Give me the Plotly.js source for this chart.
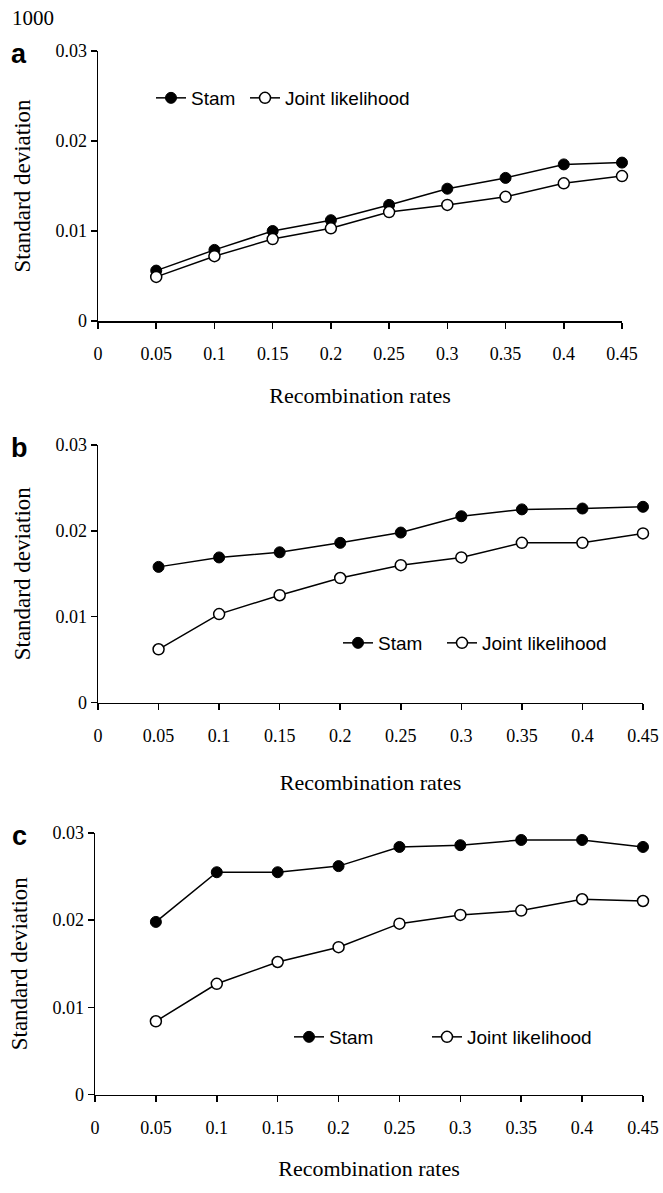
<!DOCTYPE html>
<html>
<head>
<meta charset="utf-8">
<script src="https://cdn.plot.ly/plotly-3.0.1.min.js"></script>
<style>
  html, body { margin: 0; padding: 0; background: #fff; }
  #chart { width: 663px; height: 1193px; }
</style>
</head>
<body>
<div id="chart"></div>
<script>
// Recombination rates (x values)
const rates = [0.05, 0.1, 0.15, 0.2, 0.25, 0.3, 0.35, 0.4, 0.45];
const xTickVals = [0, 0.05, 0.1, 0.15, 0.2, 0.25, 0.3, 0.35, 0.4, 0.45];
const xTickText = ["0", "0.05", "0.1", "0.15", "0.2", "0.25", "0.3", "0.35", "0.4", "0.45"];
const yTickVals = [0, 0.01, 0.02, 0.03];
const yTickText = ["0", "0.01", "0.02", "0.03"];

// Panel a
const stamA  = [0.0056, 0.0079, 0.0100, 0.0112, 0.0129, 0.0147, 0.0159, 0.0174, 0.0176];
const jointA = [0.0049, 0.0072, 0.0091, 0.0103, 0.0121, 0.0129, 0.0138, 0.0153, 0.0161];
// Panel b
const stamB  = [0.0158, 0.0169, 0.0175, 0.0186, 0.0198, 0.0217, 0.0225, 0.0226, 0.0228];
const jointB = [0.0062, 0.0103, 0.0125, 0.0145, 0.0160, 0.0169, 0.0186, 0.0186, 0.0197];
// Panel c
const stamC  = [0.0198, 0.0255, 0.0255, 0.0262, 0.0284, 0.0286, 0.0292, 0.0292, 0.0284];
const jointC = [0.0084, 0.0127, 0.0152, 0.0169, 0.0196, 0.0206, 0.0211, 0.0224, 0.0222];

const seriesNames = ["Stam", "Joint likelihood"];
const panelLetters = ["a", "b", "c"];
const topNote = "1000";
const xTitle = "Recombination rates";
const yTitle = "Standard deviation";

const W = 663, H = 1193;
const serif = "Liberation Serif, Times New Roman, serif";
const sans = "Liberation Sans, Arial, sans-serif";

function px2x(p) { return p / W; }
function px2y(p) { return 1 - p / H; }

// panel geometry in pixels: [left, right, top(0.03), bottom(0), x-title standoff]
const geo = [
  [98, 622, 51, 321, 24],
  [98, 643, 445, 702.5, 30],
  [95, 643, 833, 1094.5, 24]
];
// legend marker positions: [stam x, joint x, y]
const legGeo = [
  [171, 265, 98],
  [358, 462, 643],
  [309, 447, 1037]
];

const data = [];
const panels = [[stamA, jointA], [stamB, jointB], [stamC, jointC]];
let legCount = 0;
function legName() {
  legCount += 1;
  return legCount === 1 ? 'legend' : 'legend' + legCount;
}
panels.forEach((pair, i) => {
  const xa = i === 0 ? 'x' : 'x' + (i + 1);
  const ya = i === 0 ? 'y' : 'y' + (i + 1);
  data.push({
    x: rates, y: pair[0], name: seriesNames[0], type: 'scatter', mode: 'lines+markers',
    xaxis: xa, yaxis: ya, legend: legName(), cliponaxis: false, showlegend: true,
    line: { color: '#000', width: 1.5 },
    marker: { symbol: 'circle', size: 11, color: '#000', line: { color: '#000', width: 1 } }
  });
  data.push({
    x: rates, y: pair[1], name: seriesNames[1], type: 'scatter', mode: 'lines+markers',
    xaxis: xa, yaxis: ya, legend: legName(), cliponaxis: false, showlegend: true,
    line: { color: '#000', width: 1.5 },
    marker: { symbol: 'circle', size: 11, color: '#fff', line: { color: '#000', width: 1.5 } }
  });
});

const layout = {
  width: W, height: H,
  showlegend: true,
  margin: { l: 0, r: 0, t: 0, b: 0 },
  paper_bgcolor: '#fff', plot_bgcolor: '#fff',
  font: { family: serif, color: '#000', size: 18 },
  annotations: [
    { text: topNote, xref: 'paper', yref: 'paper', x: px2x(10), y: px2y(18),
      xanchor: 'left', yanchor: 'middle', showarrow: false,
      font: { family: serif, size: 21, color: '#000' } }
  ]
};

geo.forEach((g, i) => {
  const sfx = i === 0 ? '' : String(i + 1);
  const xa = 'xaxis' + sfx, ya = 'yaxis' + sfx;
  layout[xa] = {
    domain: [px2x(g[0]), px2x(g[1])],
    anchor: 'y' + sfx,
    range: [0, 0.45],
    tickmode: 'array', tickvals: xTickVals, ticktext: xTickText,
    ticks: 'outside', ticklen: 6, tickwidth: 1.5, tickcolor: '#000',
    ticklabelstandoff: 10,
    showline: true, linecolor: '#000', linewidth: 1.5,
    showgrid: false, zeroline: false, fixedrange: true,
    tickfont: { family: serif, size: 18, color: '#000' },
    title: { text: xTitle, font: { family: serif, size: 22, color: '#000' }, standoff: g[4] }
  };
  layout[ya] = {
    domain: [px2y(g[3]), px2y(g[2])],
    anchor: 'x' + sfx,
    range: [0, 0.03],
    tickmode: 'array', tickvals: yTickVals, ticktext: yTickText,
    ticks: 'outside', ticklen: 6, tickwidth: 1.5, tickcolor: '#000',
    showline: true, linecolor: '#000', linewidth: 1.5,
    showgrid: false, zeroline: false, fixedrange: true,
    tickfont: { family: serif, size: 18, color: '#000' },
    title: { text: yTitle, font: { family: serif, size: 23, color: '#000' }, standoff: 18 }
  };
  const lgg = legGeo[i];
  [0, 1].forEach(k => {
    const n = i * 2 + k + 1;
    const lg = n === 1 ? 'legend' : 'legend' + n;
    layout[lg] = {
      visible: true,
      orientation: 'h',
      x: px2x(lgg[k] - 20), y: px2y(lgg[2]),
      xanchor: 'left', yanchor: 'middle',
      bgcolor: 'rgba(0,0,0,0)', borderwidth: 0,
      font: { family: sans, size: 19, color: '#000' }
    };
  });
  layout.annotations.push({
    text: '<b>' + panelLetters[i] + '</b>', xref: 'paper', yref: 'paper',
    x: px2x(19), y: px2y(g[2] + 3), xanchor: 'center', yanchor: 'middle', showarrow: false,
    font: { family: sans, size: 27, color: '#000' }
  });
});

Plotly.newPlot('chart', data, layout, { displayModeBar: false, staticPlot: true });
</script>
</body>
</html>
